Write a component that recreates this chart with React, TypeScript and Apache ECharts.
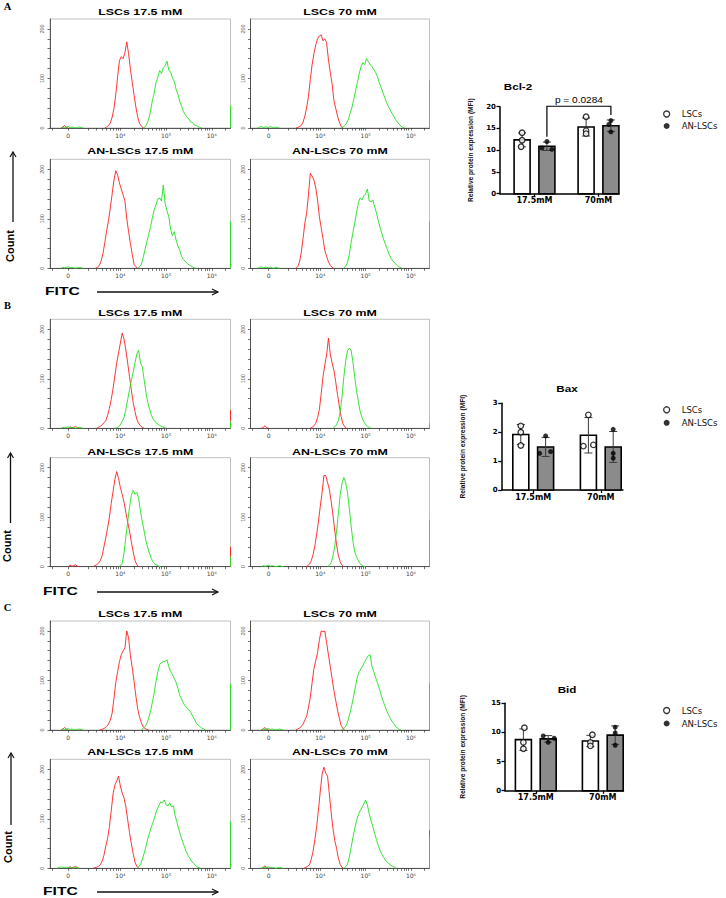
import React, { useEffect, useRef } from "react";
import * as echarts from "echarts";

const WIDTH = 726;
const HEIGHT = 898;

// ---- Flow cytometry histograms (FITC, decade units; "0" sits left of 10^4) ----
const X_MIN = 2.46;
const X_MAX = 6.41;
const X_TICK_POS = [2.86, 4, 5, 6];
const X_TICK_LABELS = ["0", "10⁴", "10⁵", "10⁶"];
const X_MINOR_POS = [2.5, 3.3, 3.48, 3.6, 3.7, 3.78, 3.85, 3.9, 3.95, 4.3, 4.48, 4.6, 4.7, 4.78, 4.85, 4.9, 4.95, 5.3, 5.48, 5.6, 5.7, 5.78, 5.85, 5.9, 5.95, 6.3];
const Y_MAX = 220;
const Y_LABELS = [0, 100, 200];
const Y_TICKS = [0, 20, 40, 60, 80, 100, 120, 140, 160, 180, 200];
const STEP = 0.04;

type Hist = { from: number; counts: number[] };

// A: Bcl-2
const A_LSC175_RED: Hist = { from: 3.66, counts: [0, 2, 5, 10, 22, 40, 68, 104, 136, 144, 140, 152, 174, 150, 118, 92, 66, 42, 22, 9, 4, 0] };
const A_LSC175_GREEN: Hist = { from: 4.5, counts: [0, 2, 8, 18, 34, 55, 70, 92, 102, 116, 110, 122, 126, 135, 117, 113, 101, 94, 78, 68, 53, 44, 33, 27, 21, 18, 12, 11, 6, 5, 3, 1, 0] };
const A_LSC70_RED: Hist = { from: 3.46, counts: [0, 1, 3, 5, 12, 24, 42, 64, 98, 128, 150, 168, 180, 186, 188, 176, 180, 172, 138, 112, 90, 56, 40, 24, 12, 3, 0] };
const A_LSC70_GREEN: Hist = { from: 4.46, counts: [0, 2, 5, 10, 18, 30, 42, 58, 76, 92, 110, 124, 132, 128, 140, 134, 128, 124, 118, 112, 104, 92, 82, 72, 62, 52, 44, 37, 30, 24, 17, 12, 8, 4, 1, 0] };
const A_AN175_RED: Hist = { from: 3.46, counts: [0, 2, 6, 15, 30, 52, 76, 96, 122, 150, 178, 197, 188, 172, 160, 148, 136, 100, 74, 50, 28, 8, 3, 0] };
const A_AN175_GREEN: Hist = { from: 4.38, counts: [0, 3, 8, 22, 38, 54, 68, 84, 102, 118, 128, 140, 142, 136, 168, 130, 116, 104, 78, 66, 74, 57, 45, 36, 24, 18, 14, 10, 7, 5, 3, 1, 0] };
const A_AN70_RED: Hist = { from: 3.46, counts: [0, 3, 12, 32, 60, 92, 112, 150, 192, 186, 178, 162, 138, 104, 82, 60, 36, 24, 13, 6, 2, 0] };
const A_AN70_GREEN: Hist = { from: 4.52, counts: [0, 4, 12, 28, 52, 72, 92, 112, 132, 142, 138, 146, 150, 160, 136, 134, 138, 124, 112, 96, 82, 70, 58, 48, 38, 28, 20, 15, 11, 7, 4, 2, 0] };

// B: Bax
const B_LSC175_RED: Hist = { from: 3.48, counts: [0, 2, 4, 7, 11, 15, 26, 40, 58, 80, 106, 132, 152, 172, 192, 180, 158, 132, 104, 78, 52, 34, 18, 10, 5, 2, 0] };
const B_LSC175_GREEN: Hist = { from: 3.88, counts: [0, 1, 3, 7, 14, 22, 38, 58, 78, 96, 114, 132, 150, 158, 132, 124, 98, 72, 52, 38, 26, 18, 13, 10, 7, 5, 3, 2, 0] };
const B_LSC70_RED: Hist = { from: 3.78, counts: [0, 2, 5, 10, 22, 38, 70, 104, 128, 148, 182, 150, 132, 118, 94, 68, 44, 24, 9, 3, 0] };
const B_LSC70_GREEN: Hist = { from: 4.28, counts: [0, 3, 7, 16, 34, 64, 104, 136, 156, 162, 158, 134, 104, 76, 54, 34, 22, 13, 8, 4, 2, 0] };
const B_AN175_RED: Hist = { from: 3.4, counts: [0, 2, 4, 7, 12, 22, 40, 58, 78, 100, 128, 152, 176, 192, 178, 160, 146, 130, 110, 90, 72, 50, 30, 13, 4, 0] };
const B_AN175_GREEN: Hist = { from: 3.96, counts: [0, 2, 7, 28, 60, 90, 120, 144, 154, 146, 150, 138, 112, 90, 72, 52, 38, 26, 16, 9, 5, 3, 1, 0] };
const B_AN70_RED: Hist = { from: 3.68, counts: [0, 2, 5, 12, 24, 42, 66, 92, 122, 150, 184, 184, 170, 156, 132, 104, 72, 44, 22, 10, 3, 0] };
const B_AN70_GREEN: Hist = { from: 4.16, counts: [0, 3, 8, 22, 42, 72, 108, 146, 168, 180, 170, 150, 118, 82, 52, 30, 20, 12, 6, 3, 1, 0] };

// C: Bid
const C_LSC175_RED: Hist = { from: 3.54, counts: [0, 1, 2, 4, 7, 12, 20, 34, 64, 96, 118, 138, 152, 160, 166, 200, 186, 150, 126, 98, 68, 42, 26, 14, 6, 3, 1, 0] };
const C_LSC175_GREEN: Hist = { from: 4.46, counts: [0, 3, 7, 13, 24, 38, 56, 74, 98, 118, 132, 136, 138, 138, 142, 128, 118, 112, 104, 96, 84, 70, 62, 54, 48, 44, 40, 36, 28, 22, 14, 10, 7, 4, 2, 0] };
const C_LSC70_RED: Hist = { from: 3.46, counts: [0, 2, 4, 7, 12, 20, 28, 46, 66, 96, 124, 140, 156, 182, 200, 198, 200, 176, 152, 128, 104, 80, 60, 40, 24, 9, 3, 0] };
const C_LSC70_GREEN: Hist = { from: 4.46, counts: [0, 2, 5, 10, 22, 36, 52, 70, 90, 108, 118, 124, 130, 138, 144, 150, 152, 128, 118, 106, 96, 84, 72, 60, 50, 40, 32, 24, 18, 13, 8, 4, 1, 0] };
const C_AN175_RED: Hist = { from: 3.4, counts: [0, 1, 2, 4, 7, 14, 26, 44, 60, 84, 116, 150, 168, 176, 186, 166, 152, 142, 124, 98, 72, 50, 30, 12, 4, 0] };
const C_AN175_GREEN: Hist = { from: 4.36, counts: [0, 3, 7, 18, 30, 44, 60, 72, 84, 94, 106, 118, 126, 134, 132, 138, 128, 126, 132, 124, 126, 106, 92, 78, 66, 54, 44, 34, 26, 20, 14, 10, 6, 3, 1, 0] };
const C_AN70_RED: Hist = { from: 3.64, counts: [0, 2, 4, 7, 18, 34, 58, 84, 118, 156, 190, 204, 192, 186, 150, 112, 80, 56, 40, 20, 8, 2, 0] };
const C_AN70_GREEN: Hist = { from: 4.52, counts: [0, 3, 8, 22, 42, 62, 80, 96, 108, 116, 122, 130, 138, 128, 110, 96, 84, 70, 58, 46, 36, 28, 22, 16, 12, 9, 6, 4, 2, 0] };

// low-end events near "0"
const LOW_GREEN_1: Hist = { from: 2.7, counts: [0, 2, 1, 2, 3, 1, 2, 1, 0, 1, 2, 1, 0] };
const LOW_GREEN_2: Hist = { from: 2.62, counts: [0, 2, 3, 1, 2, 2, 1, 3, 1, 0, 2, 1, 0] };
const LOW_RED_1: Hist = { from: 2.7, counts: [0, 2, 5, 1, 0] };
const LOW_RED_2: Hist = { from: 2.86, counts: [0, 3, 1, 2, 4, 1, 0] };

// overflow events piled at the top of the scale (last channel)
const EDGE_GREEN = [45, 96, 94, 95, 14, 10, 20, 95, 94, 94, 94, 64];
const EDGE_RED = [0, 0, 0, 0, 37, 0, 40, 0, 0, 0, 0, 77];

const HIST_TITLES = ["LSCs 17.5 mM", "LSCs 70 mM", "AN-LSCs 17.5 mM", "AN-LSCs 70 mM"];
const HISTS = [
  { red: A_LSC175_RED, green: A_LSC175_GREEN, lowG: LOW_GREEN_1, lowR: LOW_RED_1 },
  { red: A_LSC70_RED, green: A_LSC70_GREEN, lowG: LOW_GREEN_2, lowR: null },
  { red: A_AN175_RED, green: A_AN175_GREEN, lowG: LOW_GREEN_1, lowR: null },
  { red: A_AN70_RED, green: A_AN70_GREEN, lowG: LOW_GREEN_2, lowR: null },
  { red: B_LSC175_RED, green: B_LSC175_GREEN, lowG: LOW_GREEN_1, lowR: LOW_RED_2 },
  { red: B_LSC70_RED, green: B_LSC70_GREEN, lowG: null, lowR: LOW_RED_1 },
  { red: B_AN175_RED, green: B_AN175_GREEN, lowG: null, lowR: LOW_RED_2 },
  { red: B_AN70_RED, green: B_AN70_GREEN, lowG: LOW_GREEN_1, lowR: null },
  { red: C_LSC175_RED, green: C_LSC175_GREEN, lowG: LOW_GREEN_1, lowR: LOW_RED_1 },
  { red: C_LSC70_RED, green: C_LSC70_GREEN, lowG: LOW_GREEN_1, lowR: LOW_RED_1 },
  { red: C_AN175_RED, green: C_AN175_GREEN, lowG: LOW_GREEN_2, lowR: LOW_RED_2 },
  { red: C_AN70_RED, green: C_AN70_GREEN, lowG: LOW_GREEN_1, lowR: LOW_RED_1 },
];

// ---- MFI bar charts ----
const GROUPS = ["17.5mM", "70mM"];
const BCL2_LSCS = [[14.0, 12.3, 10.8], [17.7, 14.5, 13.8]];
const BCL2_AN = [[12.0, 10.5, 10.2], [16.8, 15.9, 14.2]];
const BAX_LSCS = [[2.22, 2.0, 1.54], [2.6, 1.52, 1.56]];
const BAX_AN = [[1.87, 1.27, 1.33], [2.1, 1.27, 1.1]];
const BID_LSCS = [[10.8, 8.3, 7.2], [9.6, 8.3, 7.7]];
const BID_AN = [[9.4, 9.0, 8.3], [10.9, 9.9, 7.8]];
const BCL2_P = { label: "p = 0.0284", top: 20.1, leftEnd: 13.1, rightEnd: 18.1 };

// horizontal spread (px) of replicate dots
const BCL2_JIT = { lscs: [[0, 0, -1], [0, 0, 0]], an: [[0, -5, 5], [0, -2, 0]] };
const BAX_JIT = { lscs: [[0, 0, 0], [0, -5, 5]], an: [[0, -6, 5], [0, 0, 0]] };
const BID_JIT = { lscs: [[1, 0, 0], [2, 0, 0]], an: [[-5, 6, 0], [0, 0, 0]] };

const BAR_W = 16;
const BAR_OFF = 12.4;
const RED = "#ff1f1f";
const GREEN = "#1fe01f";

const HIST_COL_LEFT = [50, 250.5];
const HIST_COL_WIDTH = [180.5, 179];
const HIST_ROW_BOTTOM = [128, 268.3, 428.3, 566.7, 730, 868.3];
const HIST_HEIGHT = 109;
const HIST_TITLE_Y = [12, 151, 313, 452, 614, 752];

const mean = (a: number[]) => a.reduce((s, v) => s + v, 0) / a.length;
const sd = (a: number[]) => {
  const m = mean(a);
  return Math.sqrt(a.reduce((s, v) => s + (v - m) * (v - m), 0) / (a.length - 1));
};
const toPairs = (h: Hist) => h.counts.map((c, i) => [+(h.from + i * STEP).toFixed(3), c]);

function buildOption() {
  const grid: any[] = [];
  const xAxis: any[] = [];
  const yAxis: any[] = [];
  const series: any[] = [];
  const graphic: any[] = [];

  HISTS.forEach((h, i) => {
    const row = Math.floor(i / 2);
    const col = i % 2;
    grid.push({
      left: HIST_COL_LEFT[col], top: HIST_ROW_BOTTOM[row] - HIST_HEIGHT,
      width: HIST_COL_WIDTH[col], height: HIST_HEIGHT,
      show: true, borderColor: "#a5a5a5", borderWidth: 0.7, backgroundColor: "transparent",
    });
    xAxis.push({
      type: "value", gridIndex: i, min: X_MIN, max: X_MAX,
      axisLine: { show: true, onZero: false, lineStyle: { color: "#333", width: 0.8 } },
      axisTick: { show: true, customValues: [...X_TICK_POS, ...X_MINOR_POS], length: 2.5, lineStyle: { color: "#333", width: 0.7 } },
      axisLabel: {
        customValues: X_TICK_POS, fontSize: 6, color: "#444", margin: 4, fontFamily: "DejaVu Sans",
        formatter: (v: number) => {
          const k = X_TICK_POS.findIndex((t) => Math.abs(t - v) < 1e-6);
          return k >= 0 ? X_TICK_LABELS[k] : "";
        },
      },
      splitLine: { show: false },
    });
    yAxis.push({
      type: "value", gridIndex: i, min: 0, max: Y_MAX,
      axisLine: { show: true, onZero: false, lineStyle: { color: "#333", width: 0.8 } },
      axisTick: { show: true, customValues: Y_TICKS, length: 2.5, lineStyle: { color: "#333", width: 0.7 } },
      axisLabel: { customValues: Y_LABELS, rotate: 90, fontSize: 5.5, color: "#555", margin: 5, fontFamily: "Liberation Sans" },
      splitLine: { show: false },
    });
    const line = (data: any[], color: string, clip = true) => ({
      type: "line", xAxisIndex: i, yAxisIndex: i, data, symbol: "none", silent: true, clip,
      lineStyle: { color, width: 0.9 }, z: 3,
    });
    if (h.lowR) series.push(line(toPairs(h.lowR), RED));
    if (h.lowG) series.push(line(toPairs(h.lowG), GREEN));
    series.push(line(toPairs(h.red), RED));
    series.push(line(toPairs(h.green), GREEN));
    if (EDGE_RED[i] > 0) series.push(line([[X_MAX, 0], [X_MAX, EDGE_RED[i]]], RED, false));
    if (EDGE_GREEN[i] > 0) series.push(line([[X_MAX, 0], [X_MAX, EDGE_GREEN[i]]], GREEN, false));

    graphic.push({
      type: "text", x: HIST_COL_LEFT[col] + HIST_COL_WIDTH[col] / 2, y: HIST_TITLE_Y[row], scaleX: 1.32,
      style: { text: HIST_TITLES[(row % 2) * 2 + col], fontSize: 9.4, fontWeight: "bold", fontFamily: "Liberation Sans", fill: "#000", align: "center", verticalAlign: "middle" },
    });
  });

  // panel letters, axis captions and arrows
  const PANEL_LETTERS = [
    { t: "A", y: 6, countY: 246, arrowX: 13, arrowTop: 152, arrowBottom: 222, fitcY: 291, fitcX: 45 },
    { t: "B", y: 305, countY: 546, arrowX: 10.5, arrowTop: 453, arrowBottom: 523, fitcY: 591, fitcX: 43 },
    { t: "C", y: 607, countY: 847, arrowX: 11, arrowTop: 753, arrowBottom: 825, fitcY: 891, fitcX: 43 },
  ];
  PANEL_LETTERS.forEach((p) => {
    graphic.push({ type: "text", x: 7.5, y: p.y, style: { text: p.t, fontSize: 10.5, fontWeight: "bold", fontFamily: "Liberation Serif", fill: "#000", align: "center", verticalAlign: "middle" } });
    graphic.push({ type: "text", x: p.arrowX - 3.5, y: p.countY, rotation: Math.PI / 2, style: { text: "Count", fontSize: 11, fontWeight: "bold", fontFamily: "Liberation Sans", fill: "#000", align: "center", verticalAlign: "middle" } });
    graphic.push({ type: "line", shape: { x1: p.arrowX, y1: p.arrowBottom, x2: p.arrowX, y2: p.arrowTop }, style: { stroke: "#111", lineWidth: 1.3 } });
    graphic.push({ type: "polyline", shape: { points: [[p.arrowX - 3, p.arrowTop + 5], [p.arrowX, p.arrowTop], [p.arrowX + 3, p.arrowTop + 5]] }, style: { stroke: "#111", lineWidth: 1.2, fill: "none" } });
    graphic.push({ type: "text", x: p.fitcX, y: p.fitcY, scaleX: 1.4, style: { text: "FITC", fontSize: 11.2, fontWeight: "bold", fontFamily: "Liberation Sans", fill: "#000", align: "left", verticalAlign: "middle" } });
    graphic.push({ type: "line", shape: { x1: 97, y1: p.fitcY + 1, x2: 218, y2: p.fitcY + 1 }, style: { stroke: "#111", lineWidth: 1.3 } });
    graphic.push({ type: "polyline", shape: { points: [[212, p.fitcY - 2], [218, p.fitcY + 1], [212, p.fitcY + 4]] }, style: { stroke: "#111", lineWidth: 1.2, fill: "none" } });
  });

  const BAR_CHARTS = [
    { title: "Bcl-2", titleX: 518, titleY: 87, axisX: 500, top: 106.7, bottom: 193.7, c1: 534.5, c2: 598.5, end: 619, yMax: 20, yStep: 5, nameGap: 26, lscs: BCL2_LSCS, an: BCL2_AN, jit: BCL2_JIT, legendTop: 109.5, legendGap: 2, p: BCL2_P },
    { title: "Bax", titleX: 567, titleY: 389, axisX: 501.7, top: 403.3, bottom: 490, c1: 533.2, c2: 600.8, end: 623, yMax: 3, yStep: 1, nameGap: 36, lscs: BAX_LSCS, an: BAX_AN, jit: BAX_JIT, legendTop: 405.3, legendGap: 3, p: null },
    { title: "Bid", titleX: 567, titleY: 690, axisX: 505, top: 703.3, bottom: 790.7, c1: 535.8, c2: 602.8, end: 623.5, yMax: 15, yStep: 5, nameGap: 39, lscs: BID_LSCS, an: BID_AN, jit: BID_JIT, legendTop: 706, legendGap: 3, p: null },
  ];

  const legend: any[] = [];
  BAR_CHARTS.forEach((c, j) => {
    const gi = HISTS.length + j;
    const unit = c.c2 - c.c1;
    grid.push({ left: c.axisX, top: c.top, width: c.end - c.axisX, height: c.bottom - c.top });
    xAxis.push({
      type: "value", gridIndex: gi, min: (c.axisX - c.c1) / unit, max: 1 + (c.end - c.c2) / unit,
      axisLine: { show: true, onZero: false, lineStyle: { color: "#000", width: 1.5 } },
      axisTick: { show: true, customValues: [0, 1], length: 3, lineStyle: { color: "#000", width: 1.3 } },
      axisLabel: { customValues: [0, 1], formatter: (v: number) => GROUPS[Math.round(v)] ?? "", fontSize: 8, fontWeight: "bold", color: "#000", margin: 3, fontFamily: "DejaVu Sans" },
      splitLine: { show: false },
    });
    yAxis.push({
      type: "value", gridIndex: gi, min: 0, max: c.yMax, interval: c.yStep,
      name: "Relative protein expression (MFI)", nameLocation: "middle", nameGap: c.nameGap,
      nameTextStyle: { fontSize: 6.6, fontWeight: "bold", fontFamily: "Liberation Sans", color: "#111" },
      axisLine: { show: true, onZero: false, lineStyle: { color: "#000", width: 1.5 } },
      axisTick: { show: true, length: 3.5, lineStyle: { color: "#000", width: 1.3 } },
      axisLabel: { fontSize: 7, fontWeight: "bold", color: "#000", margin: 4, fontFamily: "DejaVu Sans" },
      splitLine: { show: false },
    });

    const barData: number[][] = [];
    const errData: number[][] = [];
    [c.lscs, c.an].forEach((grp, s) => grp.forEach((reps, g) => {
      barData.push([g, s, mean(reps)]);
      errData.push([g, s, mean(reps), sd(reps)]);
    }));

    series.push({
      type: "custom", xAxisIndex: gi, yAxisIndex: gi, data: barData, encode: { x: 0, y: 2 }, silent: true, z: 2,
      renderItem: (_p: any, api: any) => {
        const g = api.value(0), s = api.value(1), v = api.value(2);
        const base = api.coord([g, 0]);
        const top = api.coord([g, v]);
        const cx = base[0] + (s === 0 ? -BAR_OFF : BAR_OFF);
        return {
          type: "rect",
          shape: { x: cx - BAR_W / 2, y: top[1], width: BAR_W, height: base[1] - top[1] },
          style: { fill: s === 0 ? "#ffffff" : "#8b8b8b", stroke: "#000", lineWidth: 1.6 },
        };
      },
    });
    series.push({
      type: "custom", xAxisIndex: gi, yAxisIndex: gi, data: errData, encode: { x: 0, y: 2 }, silent: true, z: 3,
      renderItem: (_p: any, api: any) => {
        const g = api.value(0), s = api.value(1), m = api.value(2), e = api.value(3);
        const hi = api.coord([g, m + e]);
        const lo = api.coord([g, m - e]);
        const cx = hi[0] + (s === 0 ? -BAR_OFF : BAR_OFF);
        const st = { stroke: "#3a3a3a", lineWidth: 1 };
        return {
          type: "group",
          children: [
            { type: "line", shape: { x1: cx, y1: hi[1], x2: cx, y2: lo[1] }, style: st },
            { type: "line", shape: { x1: cx - 4, y1: hi[1], x2: cx + 4, y2: hi[1] }, style: st },
            { type: "line", shape: { x1: cx - 4, y1: lo[1], x2: cx + 4, y2: lo[1] }, style: st },
          ],
        };
      },
    });

    const dots = (grp: number[][], s: number, jit: number[][]) =>
      grp.flatMap((reps, g) => reps.map((v, k) => [g + ((s === 0 ? -BAR_OFF : BAR_OFF) + jit[g][k]) / unit, v]));
    series.push({
      type: "scatter", name: "LSCs", xAxisIndex: gi, yAxisIndex: gi, data: dots(c.lscs, 0, c.jit.lscs),
      symbol: "circle", symbolSize: 5.5, silent: true, z: 5,
      itemStyle: { color: "#fff", borderColor: "#000", borderWidth: 1.3 },
    });
    series.push({
      type: "scatter", name: "AN-LSCs", xAxisIndex: gi, yAxisIndex: gi, data: dots(c.an, 1, c.jit.an),
      symbol: "circle", symbolSize: 5, silent: true, z: 5,
      itemStyle: { color: "#000" },
    });

    if (c.p) {
      const p = c.p;
      series.push({
        type: "custom", xAxisIndex: gi, yAxisIndex: gi, data: [[0, p.top, p.leftEnd, p.rightEnd]], encode: { x: 0, y: 1 }, silent: true, z: 6,
        renderItem: (_pp: any, api: any) => {
          const l = api.coord([0, api.value(2)]);
          const r = api.coord([1, api.value(3)]);
          const t = api.coord([0, api.value(1)]);
          const x1 = l[0] + BAR_OFF, x2 = r[0] + BAR_OFF;
          return {
            type: "group",
            children: [
              { type: "polyline", shape: { points: [[x1, l[1]], [x1, t[1]], [x2, t[1]], [x2, r[1]]] }, style: { stroke: "#000", lineWidth: 1.2, fill: "none" } },
              { type: "text", x: (x1 + x2) / 2, y: t[1] - 6, scaleX: 1.2, style: { text: p.label, fontSize: 8.4, fontFamily: "Liberation Sans", fill: "#000", align: "center", verticalAlign: "middle" } },
            ],
          };
        },
      });
    }

    graphic.push({
      type: "text", x: c.titleX, y: c.titleY, scaleX: 1.35,
      style: { text: c.title, fontSize: 8.6, fontWeight: "bold", fontFamily: "Liberation Sans", fill: "#000", align: "center", verticalAlign: "middle" },
    });

    legend.push({
      orient: "vertical", left: 663, top: c.legendTop, itemWidth: 20, itemHeight: 6, itemGap: c.legendGap + 1,
      selectedMode: false, padding: 0,
      textStyle: { fontSize: 8.5, color: "#111", fontFamily: "DejaVu Sans" },
      data: [
        { name: "LSCs", icon: "circle", itemStyle: { color: "#fff", borderColor: "#000", borderWidth: 1.3 } },
        { name: "AN-LSCs", icon: "circle", itemStyle: { color: "#000", borderWidth: 0 } },
      ],
    });
  });

  return {
    animation: false,
    backgroundColor: "#ffffff",
    textStyle: { fontFamily: "DejaVu Sans" },
    grid, xAxis, yAxis, series, legend, graphic,
  };
}

export default function App() {
  const ref = useRef<HTMLDivElement>(null);
  useEffect(() => {
    document.body.style.margin = "0";
    if (!ref.current) return;
    const chart = echarts.init(ref.current, undefined, { renderer: "svg" });
    chart.setOption(buildOption() as any);
    return () => chart.dispose();
  }, []);
  return <div ref={ref} style={{ width: WIDTH, height: HEIGHT }} />;
}
